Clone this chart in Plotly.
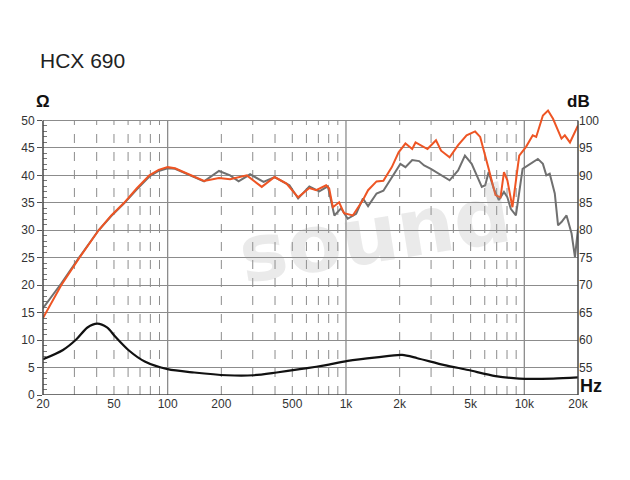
import plotly.graph_objects as go

# ---- data ----
freq_on = [20, 25.3, 32, 36.2, 41, 48.3, 57, 67, 79, 89, 100, 110, 160, 194, 224, 278, 337, 398,
           464, 539, 623, 681, 774, 805, 844, 915, 975, 1092, 1245, 1330, 1484, 1621, 1808, 1973,
           2155, 2352, 2455, 2865, 3197, 3415, 3811, 4254, 4745, 5298, 5656, 6310, 6890, 7355,
           7690, 8035, 8578, 9363, 10225, 11150, 11660, 12710, 13580, 14490, 16160, 16870,
           18030, 20000]
db_on = [64.0, 70.0, 75.0, 77.6, 80.0, 82.7, 85.0, 87.6, 90.0, 91.0, 91.5, 91.3, 89.0, 89.5,
         89.3, 90.0, 87.9, 89.7, 88.5, 86.0, 87.7, 87.3, 88.2, 87.6, 84.2, 85.1, 83.1, 82.7,
         85.5, 87.3, 88.9, 89.0, 91.5, 94.2, 95.8, 94.8, 96.0, 94.8, 96.4, 94.5, 93.3, 95.5,
         97.3, 98.0, 97.0, 91.2, 86.4, 86.0, 90.6, 89.1, 84.2, 93.6, 95.2, 97.3, 97.0, 100.9,
         101.8, 100.3, 96.7, 97.3, 96.0, 99.1]

freq_off = [20, 25.3, 32, 36.2, 41, 48.3, 57, 67, 79, 89, 100, 110, 160, 194, 224, 250, 290, 345,
            398, 482, 539, 623, 708, 791, 861, 938, 1023, 1140, 1245, 1330, 1484, 1621, 1808,
            2018, 2155, 2352, 2570, 2743, 2993, 3343, 3811, 4254, 4645, 5068, 5536, 5776, 6037,
            6310, 6740, 7197, 7690, 8035, 8398, 8971, 9780, 11150, 11910, 12710, 13290, 13880,
            14820, 15460, 16160, 17250, 18410, 19230, 20000]
db_off = [65.8, 70.3, 75.1, 77.6, 80.0, 82.6, 84.9, 87.4, 89.8, 90.8, 91.3, 91.2, 88.9, 90.8,
          90.0, 88.9, 90.2, 88.8, 89.7, 88.2, 85.8, 88.0, 87.1, 88.0, 82.7, 84.0, 82.1, 83.0,
          85.8, 84.4, 86.7, 87.2, 89.7, 92.1, 91.5, 92.8, 92.6, 91.8, 91.2, 90.3, 89.1, 90.9,
          93.6, 92.1, 89.4, 87.9, 88.2, 90.6, 87.6, 85.5, 87.0, 86.0, 83.9, 82.7, 91.2, 92.4,
          93.0, 92.1, 90.0, 90.3, 86.7, 80.9, 81.5, 82.7, 79.4, 75.1, 80.3]

freq_imp = [20, 25.9, 30.7, 35.5, 40.3, 45.7, 50.9, 60.2, 74.4, 100, 140.8, 215, 303, 408, 551,
            681, 774, 1023, 1484, 2063, 2512, 3573, 4849, 6890, 9363, 14490, 20000]
ohm_imp = [6.5, 8.2, 10.1, 12.3, 13.0, 12.3, 10.6, 8.2, 6.1, 4.7, 4.1, 3.6, 3.6, 4.1, 4.7,
           5.15, 5.45, 6.2, 6.85, 7.3, 6.7, 5.45, 4.55, 3.45, 3.0, 3.0, 3.2]

x_tick_vals = [20, 50, 100, 200, 500, 1000, 2000, 5000, 10000, 20000]
x_tick_text = ["20", "50", "100", "200", "500", "1k", "2k", "5k", "10k", "20k"]
ohm_ticks = [0, 5, 10, 15, 20, 25, 30, 35, 40, 45, 50]
db_ticks = [55, 60, 65, 70, 75, 80, 85, 90, 95, 100]

# grid / tick positions (axis configuration only)
dashed_grid = [m * 10 ** e for e in (1, 2, 3) for m in range(2, 10)
               if 20 < m * 10 ** e < 20000 and m * 10 ** e not in (100, 1000, 10000)]
solid_grid = [100, 1000, 10000]
ohm_minor = [v for v in range(0, 51) if v % 5]

XR = [1.30103, 4.30103]
Y_TOP = 53          # a little headroom so the peaks can rise above the 50 line
FONT = "Liberation Sans, Arial, sans-serif"
GRID = "#8c8c8c"

fig = go.Figure()

fig.add_trace(go.Scatter(x=freq_imp, y=ohm_imp, mode="lines", xaxis="x", yaxis="y",
                         line=dict(color="#111111", width=2.2, shape="spline", smoothing=0.8),
                         hoverinfo="skip"))
fig.add_trace(go.Scatter(x=freq_off, y=db_off, mode="lines", xaxis="x", yaxis="y2",
                         line=dict(color="#707070", width=2), hoverinfo="skip"))
fig.add_trace(go.Scatter(x=freq_on, y=db_on, mode="lines", xaxis="x", yaxis="y2",
                         line=dict(color="#ee5524", width=2), hoverinfo="skip"))

fig.update_layout(
    width=630, height=480,
    margin=dict(l=35, r=60, t=95.5, b=93),
    paper_bgcolor="white", plot_bgcolor="white",
    showlegend=False,
    font=dict(family=FONT, size=11, color="#333333"),
    xaxis=dict(type="log", range=XR, tickvals=x_tick_vals, ticktext=x_tick_text,
               showgrid=False, ticks="", showline=False, zeroline=False,
               tickfont=dict(family=FONT, size=12, color="#333333")),
    yaxis=dict(range=[0, Y_TOP], tickvals=ohm_ticks, showgrid=True, gridcolor=GRID,
               gridwidth=1, ticks="outside", ticklen=5, tickcolor="#555555",
               showline=False, zeroline=False,
               tickfont=dict(family=FONT, size=12, color="#333333"),
               minor=dict(tickvals=ohm_minor, ticks="inside", ticklen=4,
                          tickcolor="#777777", showgrid=False)),
    yaxis2=dict(range=[50, 50 + Y_TOP], overlaying="y", side="right", tickvals=db_ticks,
                showgrid=False, ticks="", showline=False, zeroline=False,
                tickfont=dict(family=FONT, size=12, color="#333333")),
)

# vertical grid lines, stopping at the top (50 Ω) gridline
for v in dashed_grid:
    fig.add_shape(type="line", xref="x", yref="y", x0=v, x1=v, y0=0, y1=50, layer="below",
                  line=dict(color=GRID, width=1, dash="dash"))
for v in solid_grid:
    fig.add_shape(type="line", xref="x", yref="y", x0=v, x1=v, y0=0, y1=50, layer="below",
                  line=dict(color=GRID, width=1.3))

# axis frame lines (left, right, bottom) ending at the top gridline
frame = dict(color="#444444", width=1.5)
fig.add_shape(type="line", xref="paper", yref="y", x0=0, x1=0, y0=0, y1=50, line=frame)
fig.add_shape(type="line", xref="paper", yref="y", x0=1, x1=1, y0=0, y1=50, line=frame)
fig.add_shape(type="line", xref="paper", yref="y", x0=0, x1=1, y0=0, y1=0, line=frame)

annotations = [
    dict(text="HCX 690", xref="paper", yref="paper", x=-0.009, y=1.149, xanchor="left",
         yanchor="middle", showarrow=False, font=dict(family=FONT, size=21, color="#222222")),
    dict(text="<b>Ω</b>", xref="paper", yref="paper", x=0.0, y=0.968, xanchor="center",
         yanchor="bottom", showarrow=False, font=dict(family=FONT, size=17, color="#111111")),
    dict(text="<b>dB</b>", xref="paper", yref="paper", x=1.0, y=0.968, xanchor="center",
         yanchor="bottom", showarrow=False, font=dict(family=FONT, size=17, color="#111111")),
    dict(text="<b>Hz</b>", xref="paper", yref="paper", x=1.0, y=-0.012, xanchor="left",
         yanchor="bottom", showarrow=False, font=dict(family=FONT, size=18, color="#111111")),
    dict(text="<b>sound</b>", xref="paper", yref="paper", x=0.62, y=0.55, xanchor="center",
         yanchor="middle", showarrow=False, textangle=-9,
         font=dict(family="DejaVu Sans, sans-serif", size=80, color="rgba(160,160,160,0.22)")),
]
fig.update_layout(annotations=annotations)

fig.write_html("out.html")
